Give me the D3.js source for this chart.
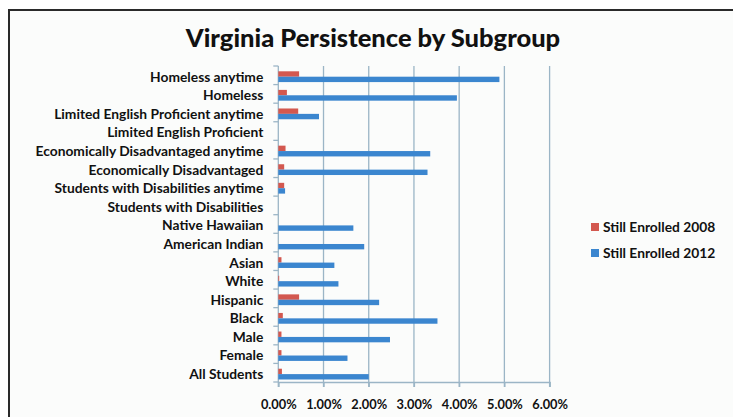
<!DOCTYPE html>
<html>
<head>
<meta charset="utf-8">
<script src="https://cdn.jsdelivr.net/npm/d3@7"></script>
<style>
  body { margin: 0; background: #fff; }
  svg text { font-family: Lato, "Open Sans", sans-serif; fill: #111; }
</style>
</head>
<body>
<svg id="chart" width="733" height="417"></svg>
<script>
// categories listed top to bottom
var categories = [
  'Homeless anytime', 'Homeless', 'Limited English Proficient anytime',
  'Limited English Proficient', 'Economically Disadvantaged anytime',
  'Economically Disadvantaged', 'Students with Disabilities anytime',
  'Students with Disabilities', 'Native Hawaiian', 'American Indian',
  'Asian', 'White', 'Hispanic', 'Black', 'Male', 'Female', 'All Students'
]
var series = ['Still Enrolled 2008', 'Still Enrolled 2012']
var enrolled2008 = [0.46, 0.19, 0.44, 0, 0.16, 0.13, 0.13, 0, 0, 0, 0.07, 0.02, 0.46, 0.10, 0.07, 0.07, 0.08]
var enrolled2012 = [4.89, 3.95, 0.90, 0, 3.36, 3.30, 0.15, 0, 1.66, 1.90, 1.24, 1.33, 2.23, 3.52, 2.47, 1.53, 2.00]
var xTicks = [0, 1, 2, 3, 4, 5, 6]

var colors = ['#d3584f', '#3b86cf']
var gridColor = '#9bb5c6'

var svg = d3.select('#chart')

// frame
svg.append('rect').attr('x', 9).attr('y', 10).attr('width', 760).attr('height', 420)
  .attr('fill', '#fbfcfb').attr('stroke', '#2a2a2a').attr('stroke-width', 2)

svg.append('text')
  .attr('x', 373).attr('y', 47)
  .attr('text-anchor', 'middle')
  .attr('font-size', 25.5).attr('font-weight', 900)
  .text('Virginia Persistence by Subgroup')

var plotLeft = 278.3, plotRight = 549.6, plotTop = 66, plotBottom = 382

var x = d3.scaleLinear().domain([0, 6]).range([plotLeft, plotRight])
var y = d3.scaleBand().domain(categories).range([plotTop, plotBottom]).paddingInner(0.42).paddingOuter(0.21)
var ySub = d3.scaleBand().domain(series).range([0, y.bandwidth()])
var barShift = 1.4

// vertical gridlines
svg.append('g').selectAll('line').data(xTicks.slice(1)).enter().append('line')
  .attr('x1', function(d) { return x(d) }).attr('x2', function(d) { return x(d) })
  .attr('y1', plotTop).attr('y2', plotBottom + 5)
  .attr('stroke', gridColor).attr('stroke-width', 1.3)

// x axis
var xAxis = svg.append('g').attr('transform', 'translate(0,' + plotBottom + ')')
  .call(d3.axisBottom(x).tickValues(xTicks).tickSize(5).tickPadding(13)
    .tickFormat(function(d) { return d.toFixed(2) + '%' }))
xAxis.selectAll('path, line').attr('stroke', gridColor).attr('stroke-width', 1.3)
xAxis.selectAll('text').attr('font-size', 12.8).attr('font-weight', 'bold')
  .attr('font-family', 'Lato, sans-serif').attr('fill', '#111')

// y axis
var yBounds = categories.map(function(c) { return y(c) - y.step() * y.paddingInner() / 2 })
yBounds.push(plotBottom)
var yAxis = svg.append('g')
yAxis.append('line').attr('x1', plotLeft).attr('x2', plotLeft).attr('y1', plotTop).attr('y2', plotBottom + 5)
  .attr('stroke', gridColor).attr('stroke-width', 1.3)
yAxis.selectAll('.tk').data(yBounds).enter().append('line')
  .attr('x1', plotLeft - 5).attr('x2', plotLeft)
  .attr('y1', function(d) { return d }).attr('y2', function(d) { return d })
  .attr('stroke', gridColor).attr('stroke-width', 1.3)
yAxis.selectAll('text').data(categories).enter().append('text')
  .attr('x', plotLeft - 15)
  .attr('y', function(d) { return y(d) + y.bandwidth() / 2 + 1.5 })
  .attr('dy', '0.35em')
  .attr('text-anchor', 'end')
  .attr('font-size', 13.8).attr('font-weight', 'bold')
  .text(function(d) { return d })

// bars
var data = [enrolled2008, enrolled2012]
data.forEach(function(vals, si) {
  svg.append('g').selectAll('rect').data(vals).enter().append('rect')
    .attr('x', x(0))
    .attr('y', function(d, i) { return y(categories[i]) + ySub(series[si]) + barShift })
    .attr('width', function(d) { return x(d) - x(0) })
    .attr('height', ySub.bandwidth())
    .attr('fill', colors[si])
})

// legend
var legend = svg.append('g').selectAll('g').data(series).enter().append('g')
  .attr('transform', function(d, i) { return 'translate(591,' + (227 + i * 26) + ')' })
legend.append('rect').attr('x', 0).attr('y', -4).attr('width', 8).attr('height', 8)
  .attr('fill', function(d, i) { return colors[i] })
legend.append('text').attr('x', 12).attr('dy', '0.35em')
  .attr('font-size', 13.8).attr('font-weight', 'bold')
  .text(function(d) { return d })
</script>
</body>
</html>
